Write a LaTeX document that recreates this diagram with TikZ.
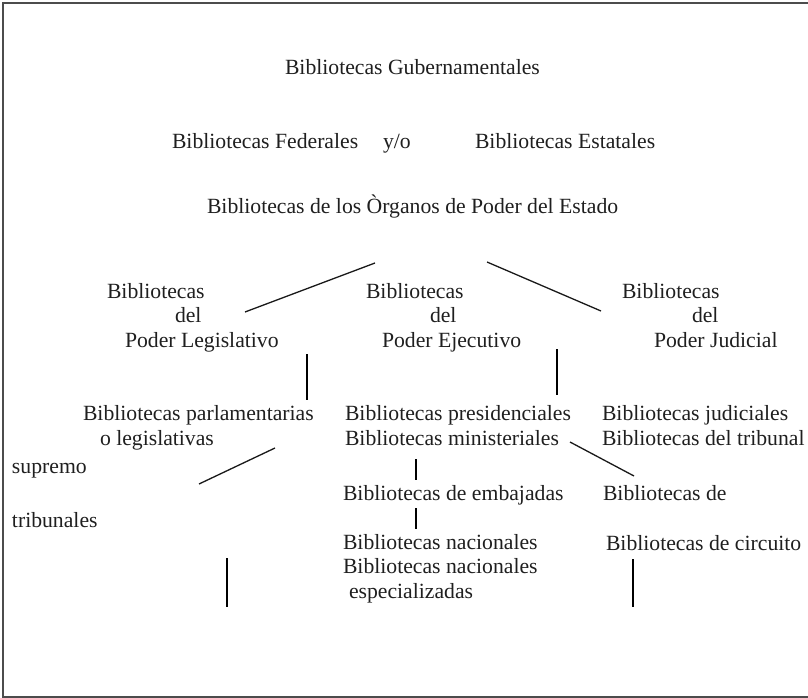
\documentclass[tikz,border=0pt]{standalone}
\usepackage{fontspec}
\setmainfont{Liberation Serif}
\begin{document}
\begin{tikzpicture}[x=1pt,y=-1pt,
  lbl/.style={anchor=base west, inner sep=0pt, outer sep=0pt, align=left,
    text=black!88, font=\fontsize{21.7}{24.5}\selectfont},
  diag/.style={line width=1.3pt, black!90},
  bar/.style={line width=2pt, black},
  frame/.style={line width=1.5pt, black!70}]
\useasboundingbox (0,0) rectangle (808,698);
\draw[frame] (815,3) -- (3,3) -- (3,697) -- (815,697);

\node[lbl] (gub) at (285,75) {Bibliotecas Gubernamentales};
\node[lbl] (fed) at (172,148) {Bibliotecas Federales};
\node[lbl] (yo)  at (383,148) {y/o};
\node[lbl] (est) at (475,148) {Bibliotecas Estatales};
\node[lbl] (org) at (207,213) {Bibliotecas de los Òrganos de Poder del Estado};

% base anchor of a multi-line node = baseline of its last line
\node[lbl] (leg) at (107,347) {Bibliotecas\\\hspace*{68pt}del\\\hspace*{18pt}Poder Legislativo};
\node[lbl] (eje) at (366,347) {Bibliotecas\\\hspace*{64pt}del\\\hspace*{16pt}Poder Ejecutivo};
\node[lbl] (jud) at (622,347) {Bibliotecas\\\hspace*{70pt}del\\\hspace*{32pt}Poder Judicial};

\node[lbl] (par) at (83,445) {Bibliotecas parlamentarias\\\hspace*{17pt}o legislativas};
\node[lbl] (pre) at (345,445) {Bibliotecas presidenciales\\Bibliotecas ministeriales};
\node[lbl] (jdc) at (602,445) {Bibliotecas judiciales\\Bibliotecas del tribunal};
\node[lbl] (sup) at (12,473) {supremo};
\node[lbl] (tri) at (12,527) {tribunales};
\node[lbl] (emb) at (343,500) {Bibliotecas de embajadas};
\node[lbl] (bde) at (603,500) {Bibliotecas de};
\node[lbl] (nac) at (343,598) {Bibliotecas nacionales\\Bibliotecas nacionales\\\hspace*{6pt}especializadas};
\node[lbl] (cir) at (606,550) {Bibliotecas de circuito};

\coordinate (d1a) at (375,263); \coordinate (d1b) at (245,312);
\coordinate (d2a) at (487,262); \coordinate (d2b) at (601,311);
\coordinate (v1a) at (307,354); \coordinate (v1b) at (307,400);
\coordinate (v2a) at (557,349); \coordinate (v2b) at (557,395);
\coordinate (d3a) at (275,448); \coordinate (d3b) at (199,484);
\coordinate (v3a) at (416,459); \coordinate (v3b) at (416,480);
\coordinate (v4a) at (416,508); \coordinate (v4b) at (416,529);
\coordinate (d4a) at (570,442); \coordinate (d4b) at (634,476);
\coordinate (v5a) at (227,558); \coordinate (v5b) at (227,607);
\coordinate (v6a) at (633,559); \coordinate (v6b) at (633,607);

\draw[diag] (d1a) -- (d1b);
\draw[diag] (d2a) -- (d2b);
\draw[bar] (v1a) -- (v1b);
\draw[bar] (v2a) -- (v2b);
\draw[diag] (d3a) -- (d3b);
\draw[bar] (v3a) -- (v3b);
\draw[bar] (v4a) -- (v4b);
\draw[diag] (d4a) -- (d4b);
\draw[bar] (v5a) -- (v5b);
\draw[bar] (v6a) -- (v6b);
\end{tikzpicture}
\end{document}
